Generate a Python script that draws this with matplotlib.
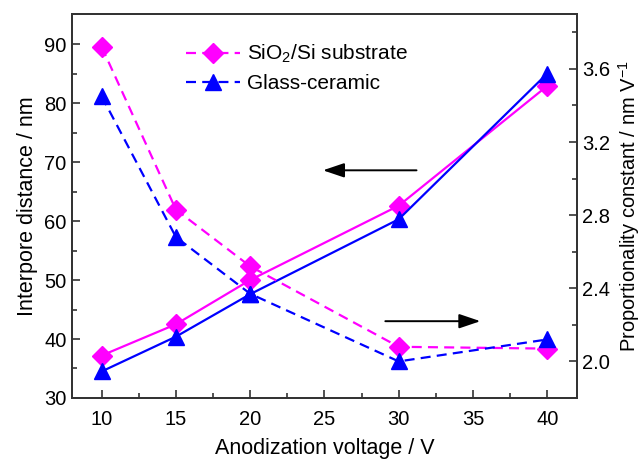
import matplotlib
matplotlib.use("Agg")
import matplotlib.pyplot as plt

plt.rcParams['font.family'] = ['Liberation Sans', 'DejaVu Sans']
plt.rcParams['mathtext.fontset'] = 'custom'
plt.rcParams['mathtext.rm'] = 'Liberation Sans'
plt.rcParams['mathtext.it'] = 'Liberation Sans'

voltage = [10, 15, 20, 30, 40]
# Interpore distance (nm), left axis, solid lines
dist_sio2 = [37.2, 42.5, 50.0, 62.6, 82.9]
dist_glass = [34.5, 40.4, 47.6, 60.3, 85.0]
# Proportionality constant (nm/V), right axis, dashed lines
k_sio2 = [3.72, 2.83, 2.52, 2.08, 2.07]
k_glass = [3.45, 2.68, 2.37, 2.00, 2.12]

labels = ["SiO$_2$/Si substrate", "Glass-ceramic"]
magenta = "#FF00FF"
blue = "#0000FF"

fig = plt.figure(figsize=(6.41, 4.61), dpi=100)
ax = fig.add_axes([0.1123, 0.1367, 0.7877, 0.8329])
ax2 = ax.twinx()

ms = 11
dash = (4.5, 2.8)
ax.plot(voltage, dist_sio2, '-', color=magenta, marker='D', ms=ms - 1, lw=1.6)
ax.plot(voltage, dist_glass, '-', color=blue, marker='^', ms=ms, lw=1.6)
l1, = ax2.plot(voltage, k_sio2, '--', color=magenta, marker='D', ms=ms - 1, lw=1.6, dashes=dash)
l2, = ax2.plot(voltage, k_glass, '--', color=blue, marker='^', ms=ms, lw=1.6, dashes=dash)

ax.set_xlim(8, 42)
ax.set_ylim(30, 95.1)
ax2.set_ylim(1.8, 3.9)

ax.set_xticks([10, 15, 20, 25, 30, 35, 40])
ax.set_xticks([12.5, 17.5, 22.5, 27.5, 32.5, 37.5], minor=True)
ax.set_yticks([30, 40, 50, 60, 70, 80, 90])
ax.set_yticks([35, 45, 55, 65, 75, 85], minor=True)
ax2.set_yticks([2.0, 2.4, 2.8, 3.2, 3.6])
ax2.set_yticklabels(["2.0", "2.4", "2.8", "3.2", "3.6"])
ax2.set_yticks([2.2, 2.6, 3.0, 3.4, 3.8], minor=True)

tfs = 14.5
lfs = 15.5
for a in (ax, ax2):
    a.tick_params(which='major', direction='in', length=6, width=1.2, labelsize=tfs, color='#333333')
    a.tick_params(which='minor', direction='in', length=3.5, width=1.2, color='#333333')
    for s in a.spines.values():
        s.set_linewidth(1.3)
        s.set_color('#333333')
ax.tick_params(axis='x', pad=9)
ax.tick_params(axis='y', pad=4)
ax2.tick_params(axis='y', pad=4)

ax.set_xlabel("Anodization voltage / V", fontsize=lfs, labelpad=6)
ax.set_ylabel("Interpore distance / nm", fontsize=lfs, labelpad=4)
ax2.set_ylabel("Proportionality constant / nm V$^{-1}$", fontsize=14.5)
ax2.yaxis.set_label_coords(1.077, 0.5)

ax2.legend([l1, l2], labels, loc='upper left', bbox_to_anchor=(0.225, 0.925),
           frameon=False, fontsize=15, handlelength=2.6, handletextpad=0.35,
           labelspacing=0.45, borderaxespad=0, borderpad=0)

style = '-|>,head_length=0.65,head_width=0.22'
ax.annotate("", xy=(24.9, 68.6), xytext=(31.2, 68.6),
            arrowprops=dict(arrowstyle=style, color='black', lw=1.4,
                            mutation_scale=20, shrinkA=0, shrinkB=0))
ax2.annotate("", xy=(35.5, 2.22), xytext=(29.1, 2.22),
             arrowprops=dict(arrowstyle=style, color='black', lw=1.4,
                             mutation_scale=20, shrinkA=0, shrinkB=0))

fig.savefig("out.png", dpi=100)
